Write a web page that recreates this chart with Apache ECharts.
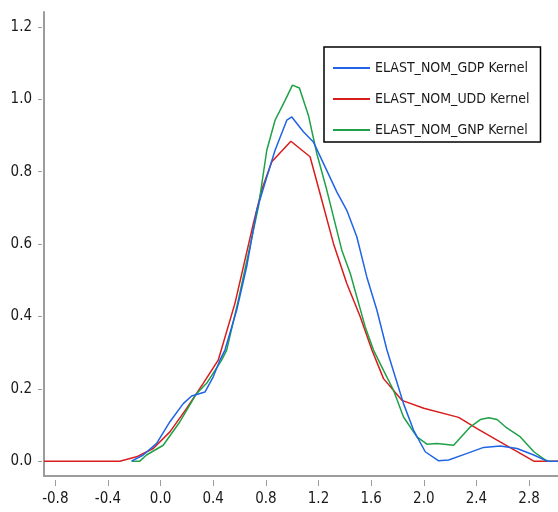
<!DOCTYPE html>
<html>
<head>
<meta charset="utf-8">
<script src="https://cdn.jsdelivr.net/npm/echarts@6/dist/echarts.min.js"></script>
<style>
    html, body { margin: 0; padding: 0; background: #fff; }
    #kernel { width: 558px; height: 512px; }
</style>
</head>
<body>
<div id="kernel"></div>
<script>
// kernel density estimates (x, density)
var gdpX = [-0.22, -0.132, -0.03, 0.071, 0.172, 0.236, 0.337, 0.4, 0.451, 0.489, 0.578, 0.654, 0.731, 0.807, 0.87,
    0.959, 0.997, 1.085, 1.161, 1.25, 1.339, 1.415, 1.491, 1.567, 1.644, 1.72, 1.79, 1.846, 1.922, 2.011,
    2.113, 2.189, 2.303, 2.455, 2.582, 2.709, 2.836, 2.937, 3.02];
var gdpY = [0, 0.017, 0.049, 0.109, 0.159, 0.18, 0.191, 0.233, 0.279, 0.307, 0.417, 0.537, 0.693, 0.785, 0.859,
    0.942, 0.951, 0.91, 0.882, 0.813, 0.744, 0.693, 0.62, 0.509, 0.417, 0.307, 0.225, 0.159, 0.086, 0.026,
    0.001, 0.003, 0.018, 0.038, 0.042, 0.035, 0.017, 0, 0];

var uddX = [-0.886, -0.31, -0.183, -0.056, 0.071, 0.198, 0.324, 0.438, 0.565, 0.629, 0.705, 0.768, 0.845, 0.99,
    1.136, 1.212, 1.314, 1.415, 1.517, 1.606, 1.694, 1.834, 2.0, 2.265, 2.405, 2.557, 2.836, 3.02];
var uddY = [0, 0, 0.012, 0.035, 0.081, 0.146, 0.215, 0.279, 0.436, 0.537, 0.657, 0.749, 0.827, 0.884,
    0.841, 0.739, 0.601, 0.491, 0.399, 0.307, 0.228, 0.168, 0.146, 0.121, 0.09, 0.058, 0, 0];

var gnpX = [-0.22, -0.158, -0.107, 0.02, 0.147, 0.274, 0.35, 0.464, 0.502, 0.591, 0.743, 0.807, 0.87, 0.946, 1.002,
    1.055, 1.123, 1.187, 1.263, 1.377, 1.441, 1.555, 1.618, 1.694, 1.77, 1.846, 1.948, 2.024, 2.1, 2.227,
    2.354, 2.43, 2.493, 2.557, 2.62, 2.734, 2.836, 2.925, 2.95];
var gnpY = [0, 0, 0.017, 0.044, 0.109, 0.187, 0.215, 0.279, 0.307, 0.445, 0.702, 0.859, 0.942, 0.997, 1.039,
    1.031, 0.956, 0.85, 0.749, 0.583, 0.519, 0.371, 0.307, 0.251, 0.196, 0.122, 0.067, 0.047, 0.049, 0.044,
    0.095, 0.115, 0.12, 0.115, 0.095, 0.067, 0.026, 0.003, 0];

var seriesNames = ['ELAST_NOM_GDP Kernel', 'ELAST_NOM_UDD Kernel', 'ELAST_NOM_GNP Kernel'];
var xTicks = [-0.8, -0.4, 0.0, 0.4, 0.8, 1.2, 1.6, 2.0, 2.4, 2.8];
var yTicks = [0.0, 0.2, 0.4, 0.6, 0.8, 1.0, 1.2];

var xMin = -0.886, xMax = 3.02;
var yMin = -0.041, yMax = 1.241;

function pairs(xs, ys) {
    return xs.map(function (x, i) { return [x, ys[i]]; });
}

var font = "'Liberation Sans Narrow', 'DejaVu Sans Condensed', sans-serif";
var axisGray = '#9c9c9c';
var textColor = '#1a1a1a';

var chart = echarts.init(document.getElementById('kernel'));
var option = {
    animation: false,
    grid: { left: 44, right: 0, top: 12, bottom: 36 },
    legend: {
        orient: 'vertical',
        left: 324,
        top: 47,
        padding: [12, 11, 3, 9],
        itemGap: 13,
        itemWidth: 37,
        itemHeight: 2,
        icon: 'rect',
        borderColor: '#000',
        borderWidth: 1.5,
        backgroundColor: '#fff',
        textStyle: { fontFamily: font, fontSize: 14, lineHeight: 18, color: textColor },
        data: seriesNames
    },
    xAxis: [
        {   // axis line only
            type: 'value', min: xMin, max: xMax,
            axisLine: { show: true, onZero: false, lineStyle: { color: axisGray, width: 2 } },
            axisTick: { show: false },
            axisLabel: { show: false },
            splitLine: { show: false }
        },
        {   // ticks + labels, pushed a bit below the line
            type: 'value', min: xMin, max: xMax, position: 'bottom', offset: 4,
            axisLine: { show: false, onZero: false },
            axisTick: { show: true, length: 6, customValues: xTicks, lineStyle: { color: axisGray, width: 1 } },
            axisLabel: {
                customValues: xTicks, margin: 12,
                fontFamily: font, fontSize: 15, color: textColor,
                formatter: function (v) { return v.toFixed(1); }
            },
            splitLine: { show: false }
        }
    ],
    yAxis: [
        {
            type: 'value', min: yMin, max: yMax,
            axisLine: { show: true, onZero: false, lineStyle: { color: axisGray, width: 2 } },
            axisTick: { show: false },
            axisLabel: { show: false },
            splitLine: { show: false }
        },
        {
            type: 'value', min: yMin, max: yMax, position: 'left', offset: 2,
            axisLine: { show: false, onZero: false },
            axisTick: { show: true, length: 4, customValues: yTicks, lineStyle: { color: axisGray, width: 1 } },
            axisLabel: {
                customValues: yTicks, margin: 10,
                fontFamily: font, fontSize: 15, color: textColor,
                formatter: function (v) { return v.toFixed(1); }
            },
            splitLine: { show: false }
        }
    ],
    series: [
        {
            name: seriesNames[0], type: 'line', z: 4,
            showSymbol: false, color: '#1f64e6',
            lineStyle: { width: 1.5 },
            data: pairs(gdpX, gdpY)
        },
        {
            name: seriesNames[1], type: 'line', z: 2,
            showSymbol: false, color: '#d91c1c',
            lineStyle: { width: 1.5 },
            data: pairs(uddX, uddY)
        },
        {
            name: seriesNames[2], type: 'line', z: 3,
            showSymbol: false, color: '#1fa148',
            lineStyle: { width: 1.5 },
            data: pairs(gnpX, gnpY)
        }
    ]
};
chart.setOption(option);
</script>
</body>
</html>
